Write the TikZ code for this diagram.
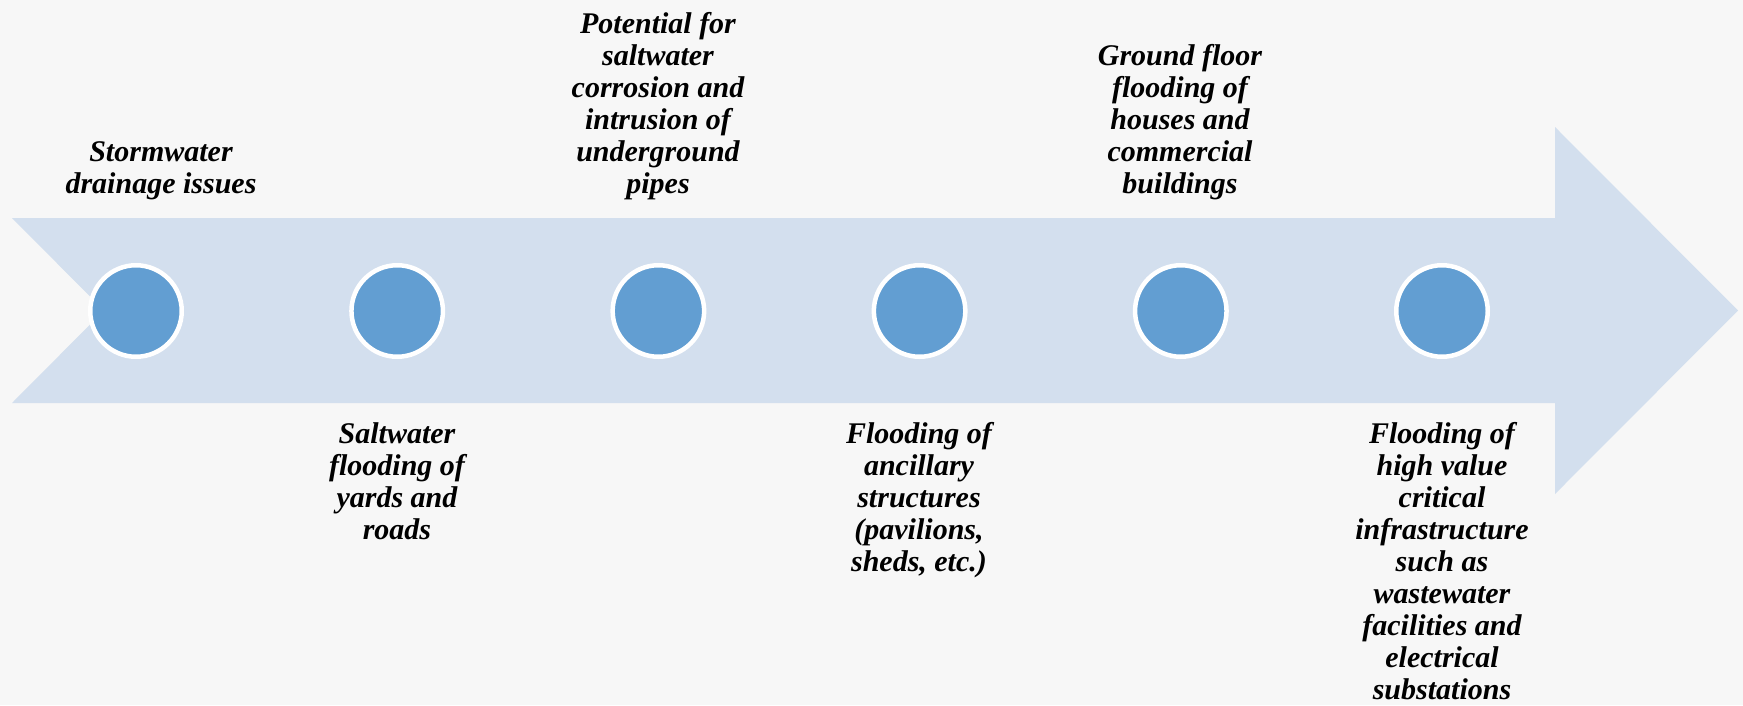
\documentclass[tikz,border=0pt]{standalone}
\usepackage{fontspec}
\setmainfont{Liberation Serif}
\definecolor{bgc}{RGB}{247,247,247}
\definecolor{arrowc}{RGB}{211,223,238}
\definecolor{dotc}{RGB}{98,158,210}
\tikzset{
  dotnode/.style={circle, minimum size=91.5pt, inner sep=0pt, draw=white, line width=4.5pt, fill=dotc},
  lbl/.style={align=center, inner sep=0pt, font=\fontsize{30}{32}\selectfont\bfseries\itshape, text=black},
}
\begin{document}
\begin{tikzpicture}[x=1pt,y=-1pt]
\fill[bgc] (0,0) rectangle (1743,705);
\useasboundingbox (0,0) rectangle (1743,705);
\fill[arrowc] (12,218) -- (1555,218) -- (1555,127) -- (1738,310.5) -- (1555,494) -- (1555,403) -- (12,403) -- (104,310.5) -- cycle;
\foreach \i in {1,...,6}{
  \node[dotnode] (c\i) at ({136+261.2*(\i-1)},311) {};
}
\node[lbl, anchor=south] (t1) at (161,200) {Stormwater\\drainage issues};
\node[lbl, anchor=north] (t2) at (397,422) {Saltwater\\flooding of\\yards and\\roads};
\node[lbl, anchor=south] (t3) at (658,200) {Potential for\\saltwater\\corrosion and\\intrusion of\\underground\\pipes};
\node[lbl, anchor=north] (t4) at (919,422) {Flooding of\\ancillary\\structures\\(pavilions,\\sheds, etc.)};
\node[lbl, anchor=south] (t5) at (1180,200) {Ground floor\\flooding of\\houses and\\commercial\\buildings};
\node[lbl, anchor=north] (t6) at (1442,422) {Flooding of\\high value\\critical\\infrastructure\\such as\\wastewater\\facilities and\\electrical\\substations};
\end{tikzpicture}
\end{document}
